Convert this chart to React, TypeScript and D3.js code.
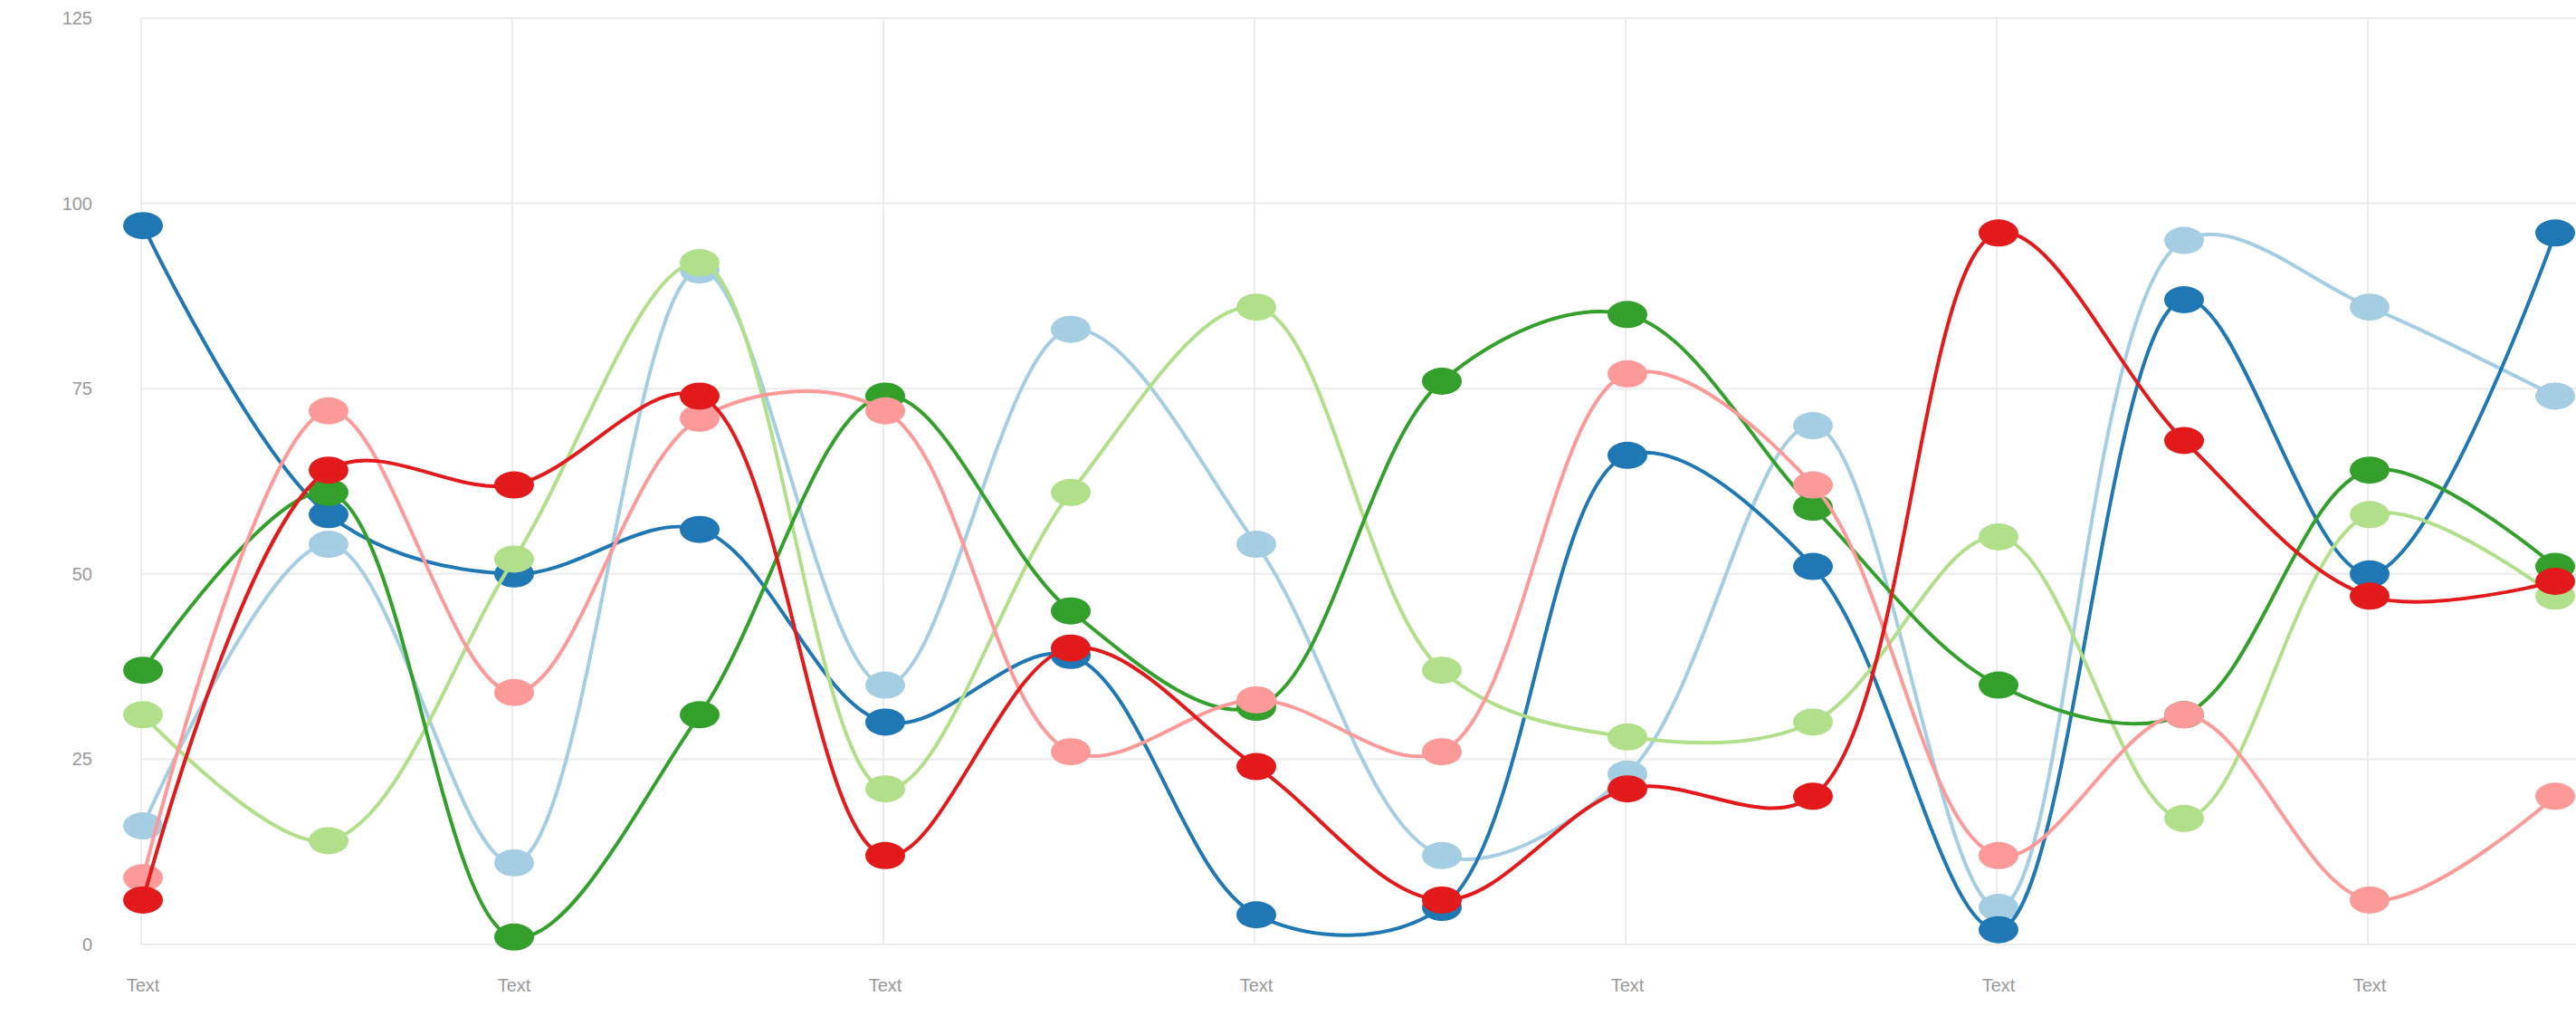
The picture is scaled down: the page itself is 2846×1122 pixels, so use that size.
import React from 'react';
import * as d3 from 'd3';

const categories = Array.from({ length: 14 }, (_, i) => `c${i}`);
const xLabels = ['Text', '', 'Text', '', 'Text', '', 'Text', '', 'Text', '', 'Text', '', 'Text', ''];
const yTicks = [0, 25, 50, 75, 100, 125];

const lightBlue = [16, 54, 11, 91, 35, 83, 54, 12, 23, 70, 5, 95, 86, 74];
const darkBlue = [97, 58, 50, 56, 30, 39, 4, 5, 66, 51, 2, 87, 50, 96];
const lightGreen = [31, 14, 52, 92, 21, 61, 86, 37, 28, 30, 55, 17, 58, 47];
const darkGreen = [37, 61, 1, 31, 74, 45, 32, 76, 85, 59, 35, 31, 64, 51];
const pink = [9, 72, 34, 71, 72, 26, 33, 26, 77, 62, 12, 31, 6, 20];
const red = [6, 64, 62, 74, 12, 40, 24, 6, 21, 20, 96, 68, 47, 49];

const series = [
  { name: 'a', color: '#a6cee3', values: lightBlue },
  { name: 'b', color: '#1f78b4', values: darkBlue },
  { name: 'c', color: '#b2df8a', values: lightGreen },
  { name: 'd', color: '#33a02c', values: darkGreen },
  { name: 'e', color: '#fb9a99', values: pink },
  { name: 'f', color: '#e31a1c', values: red },
];

const W = 2846;
const H = 1122;
const left = 156;
const top = 20;
const bottom = 1043;

export default function App() {
  const x = d3.scalePoint<string>().domain(categories).range([158, 2823]);
  const y = d3.scaleLinear().domain([0, 125]).range([bottom, top]);
  const line = d3
    .line<number>()
    .x((_, i) => x(categories[i]) as number)
    .y(d => y(d))
    .curve(d3.curveCatmullRom.alpha(0.5));

  return (
    <div style={{ position: 'fixed', left: 0, top: 0 }}>
      <svg width={W} height={H} style={{ display: 'block', fontFamily: 'Liberation Sans, Arial, sans-serif' }}>
        <rect width={W} height={H} fill="#fff" />
        {yTicks.map(t => (
          <g key={t}>
            <line x1={left} x2={W} y1={y(t)} y2={y(t)} stroke="#ececec" strokeWidth={2} />
            <text x={102} y={y(t)} dy="0.35em" textAnchor="end" fontSize={20} fill="#999">
              {t}
            </text>
          </g>
        ))}
        {categories.map((c, i) =>
          xLabels[i] ? (
            <g key={c}>
              <line x1={x(c)! - 2} x2={x(c)! - 2} y1={top} y2={bottom} stroke="#ececec" strokeWidth={2} />
              <text x={x(c)} y={1095} textAnchor="middle" fontSize={20} fill="#999">
                {xLabels[i]}
              </text>
            </g>
          ) : null
        )}
        {series.map(s => (
          <g key={s.name}>
            <path d={line(s.values) || ''} fill="none" stroke={s.color} strokeWidth={4} />
            {s.values.map((v, i) => (
              <ellipse key={i} cx={x(categories[i])} cy={y(v)} rx={22} ry={15} fill={s.color} />
            ))}
          </g>
        ))}
      </svg>
    </div>
  );
}
